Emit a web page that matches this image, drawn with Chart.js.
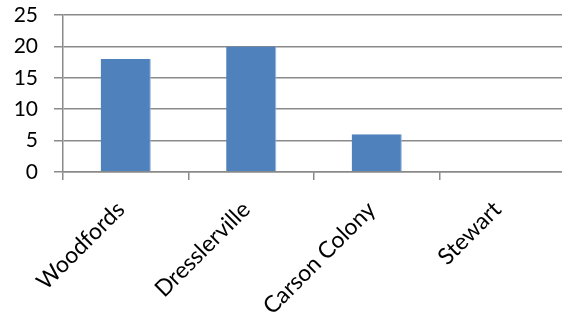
<!DOCTYPE html>
<html>
<head>
<meta charset="utf-8">
<script src="https://cdn.jsdelivr.net/npm/chart.js@4.4.1/dist/chart.umd.min.js"></script>
<style>
  html, body { margin: 0; padding: 0; background: #fff; overflow: hidden; }
  #wrap { width: 568px; height: 327px; }
</style>
</head>
<body>
<div id="wrap"><canvas id="chart"></canvas></div>
<script>
// Kategoriler ve değerler
const categories = ['Woodfords', 'Dresslerville', 'Carson Colony', 'Stewart'];
const values = [18, 20, 6, 0];
const yTicks = [0, 5, 10, 15, 20, 25];

const gridGray = '#8a8a8a';
const family = 'Lato, "Open Sans", sans-serif';

const ctx = document.getElementById('chart').getContext('2d');
new Chart(ctx, {
  type: 'bar',
  data: {
    labels: categories,
    datasets: [{
      data: values,
      backgroundColor: '#4F81BD',
      borderColor: '#9db7dc',
      borderWidth: { top: 0, right: 1, bottom: 0, left: 0 },
      borderSkipped: false,
      barPercentage: 0.4,
      categoryPercentage: 1
    }]
  },
  options: {
    responsive: true,
    maintainAspectRatio: false,
    animation: false,
    layout: { padding: { top: 15, right: 3, left: 0, bottom: 0 } },
    plugins: { legend: { display: false }, tooltip: { enabled: false } },
    scales: {
      x: {
        grid: {
          offset: true,
          drawOnChartArea: false,
          color: gridGray,
          lineWidth: 1.5,
          tickLength: 8
        },
        border: { color: gridGray, width: 1.5 },
        ticks: {
          color: '#000',
          font: { family: family, size: 23 },
          minRotation: 45,
          maxRotation: 45,
          padding: 16,
          labelOffset: -5
        },
        afterFit: (s) => { s.height = 155; s.paddingLeft = 0; s.paddingRight = 0; }
      },
      y: {
        min: 0,
        max: 25,
        afterBuildTicks: (s) => { s.ticks = yTicks.map((v) => ({ value: v })); },
        grid: { color: gridGray, lineWidth: 1.5, tickLength: 9 },
        border: { color: gridGray, width: 1.5 },
        ticks: { color: '#000', font: { family: family, size: 21 }, padding: 16 },
        // üst etiket için ayrılan boşluğu kaldır
        afterFit: (s) => { s.width = 63; s.paddingTop = 0; s.paddingBottom = 0; }
      }
    }
  }
});
</script>
</body>
</html>
